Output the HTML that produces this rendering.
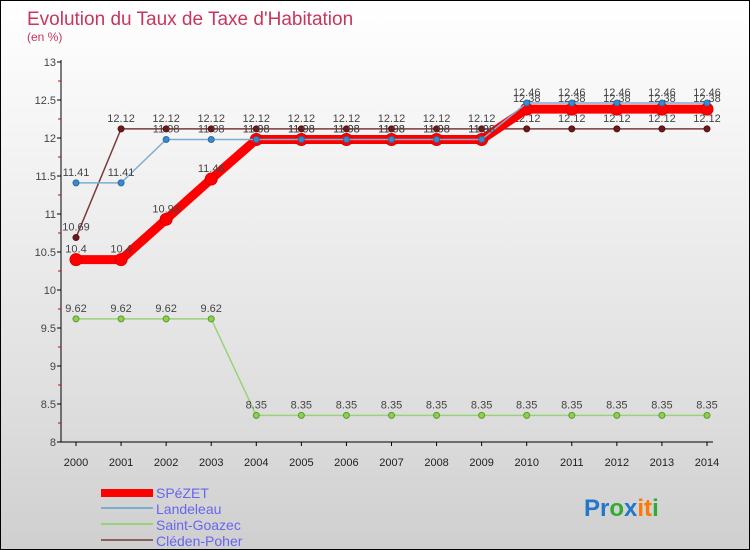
<!DOCTYPE html>
<html><head><meta charset="utf-8"><style>
body{margin:0}
#wrap{position:relative;width:750px;height:550px;box-sizing:border-box;border:1px solid #000;background:linear-gradient(#fff 0%,#f2f2f2 30%,#e0e0e0 70%,#cfcfcf 100%);font-family:"Liberation Sans",sans-serif;overflow:hidden}
svg text{font-family:"Liberation Sans",sans-serif}
</style></head><body>
<div id="wrap">
<svg id="chart" width="750" height="550">
<text x="26" y="24" font-size="19" fill="#c8365e">Evolution du Taux de Taxe d'Habitation</text>
<text x="26" y="40" font-size="12" fill="#c8365e">(en %)</text>
<g id="axes"></g><g id="series"></g>
<g>
<rect x="100" y="488" width="52" height="8" fill="#f00"/>
<text x="155" y="497" font-size="14" fill="#6666ee">SPéZET</text>
<rect x="100" y="506" width="52" height="2" fill="#7aaed0"/>
<text x="155" y="513" font-size="14" fill="#6666ee">Landeleau</text>
<rect x="100" y="522" width="52" height="2" fill="#9ad27a"/>
<text x="155" y="529" font-size="14" fill="#6666ee">Saint-Goazec</text>
<rect x="100" y="538" width="52" height="2" fill="#8a6060"/>
<text x="155" y="545" font-size="14" fill="#6666ee">Cléden-Poher</text>
</g>
<text x="583" y="515" font-size="24" font-weight="bold"><tspan fill="#2277cc">Pr</tspan><tspan fill="#33aa33">o</tspan><tspan fill="#2277cc">x</tspan><tspan fill="#ff7700">it</tspan><tspan fill="#33aa33">i</tspan></text>
</svg>
</div>
<script>
const years=[2000,2001,2002,2003,2004,2005,2006,2007,2008,2009,2010,2011,2012,2013,2014];
const spezet=[10.4,10.4,10.93,11.46,11.98,11.98,11.98,11.98,11.98,11.98,12.38,12.38,12.38,12.38,12.38];
const landeleau=[11.41,11.41,11.98,11.98,11.98,11.98,11.98,11.98,11.98,11.98,12.46,12.46,12.46,12.46,12.46];
const saintGoazec=[9.62,9.62,9.62,9.62,8.35,8.35,8.35,8.35,8.35,8.35,8.35,8.35,8.35,8.35,8.35];
const cleden=[10.69,12.12,12.12,12.12,12.12,12.12,12.12,12.12,12.12,12.12,12.12,12.12,12.12,12.12,12.12];
const yTicks=[8,8.5,9,9.5,10,10.5,11,11.5,12,12.5,13];
const NS='http://www.w3.org/2000/svg';
const X=i=>75+i*(706-75)/(years.length-1);
const Y=v=>441-(v-8)*76;
function mk(t,a,p){const e=document.createElementNS(NS,t);for(const k in a)e.setAttribute(k,a[k]);p.appendChild(e);return e;}
const ax=document.getElementById('axes');
let l=mk('line',{x1:60,y1:Y(13)-2,x2:60,y2:Y(8),stroke:'#000'},ax);


l=mk('line',{x1:60,y1:Y(8),x2:712,y2:Y(8),stroke:'#000'},ax);


yTicks.forEach(v=>{
  mk('line',{x1:56,y1:Y(v),x2:60,y2:Y(v),stroke:'#000'},ax);
  if(v<13)mk('line',{x1:57,y1:Y(v+0.25),x2:60,y2:Y(v+0.25),stroke:'#d00'},ax);
  const t=mk('text',{x:55,y:Y(v)+4,'font-size':11,fill:'#444','text-anchor':'end'},ax);
  t.textContent=String(v);
  
  
});
years.forEach((y,i)=>{
  mk('line',{x1:X(i),y1:Y(8),x2:X(i),y2:Y(8)+4,stroke:'#000'},ax);
  const t=mk('text',{x:X(i),y:Y(8)+24,'font-size':11,fill:'#222','text-anchor':'middle'},ax);
  t.textContent=String(y);
  
  
});
const sg=document.getElementById('series');
function series(vals,name,color,w,r,dot,dotStroke){
  const g=mk('g',{},sg);
  
  
  mk('polyline',{points:vals.map((v,i)=>X(i)+','+Y(v)).join(' '),fill:'none',stroke:color,'stroke-width':w,'stroke-linejoin':'round','stroke-linecap':'round'},g);
  vals.forEach((v,i)=>{
    const c=mk('circle',{cx:X(i),cy:Y(v),r:r,fill:dot,stroke:dotStroke,'stroke-width':1},g);
    
    
    const t=mk('text',{x:X(i),y:Y(v)-7,'font-size':11,fill:'#444','text-anchor':'middle'},g);
    t.textContent=String(v);
    
    
  });
}
series(saintGoazec,'saint-goazec','#9ad27a',1.5,3,'#8cd050','#5a9a30');
series(cleden,'cleden-poher','#7a3a3a',1.5,3,'#6a1a1a','#5a1010');
series(spezet,'spezet','#f00',9,6,'#f00','#d00');
series(landeleau,'landeleau','#7aaed0',1.5,3,'#3a8ad0','#2a6aa0');
</script>
</body></html>
